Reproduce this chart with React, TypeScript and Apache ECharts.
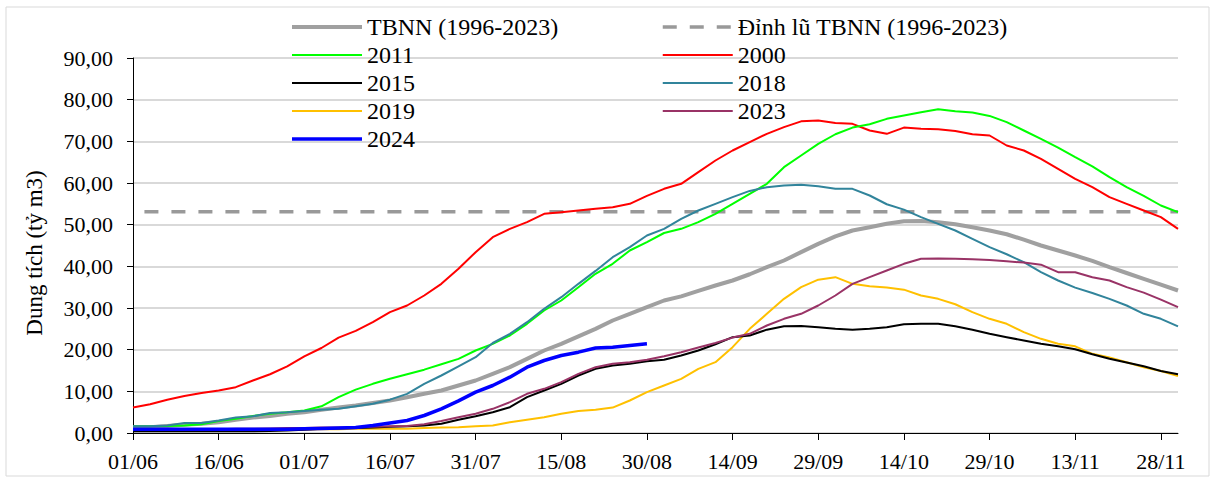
import React, { useEffect, useRef } from "react";
import * as echarts from "echarts";

// Daily categories 01/06 .. 01/12
const categories: string[] = [];
for (let i = 0; i <= 183; i++) {
  const d = new Date(Date.UTC(2024, 5, 1 + i));
  const dd = String(d.getUTCDate()).padStart(2, "0");
  const mm = String(d.getUTCMonth() + 1).padStart(2, "0");
  categories.push(`${dd}/${mm}`);
}

// Values read every 3 days starting at 01/06
const STEP = 3;

const tbnn = [1.4, 1.4, 1.7, 2.0, 2.2, 2.6, 3.2, 3.7, 4.1, 4.6, 5.0, 5.6, 6.1, 6.6, 7.2, 7.8, 8.6, 9.4, 10.2, 11.4, 12.6, 14.2, 15.8, 17.8, 19.8, 21.4, 23.2, 25.0, 27.0, 28.6, 30.2, 31.8, 32.8, 34.1, 35.4, 36.6, 38.1, 39.8, 41.4, 43.4, 45.4, 47.2, 48.6, 49.4, 50.2, 50.8, 50.9, 50.6, 50.1, 49.4, 48.6, 47.7, 46.4, 45.0, 43.8, 42.6, 41.3, 39.8, 38.4, 37.0, 35.6, 34.2];

const y2000 = [6.1, 6.9, 8.0, 8.9, 9.6, 10.2, 11.0, 12.6, 14.1, 16.0, 18.4, 20.4, 22.9, 24.5, 26.6, 29.0, 30.6, 33.0, 35.8, 39.4, 43.4, 47.0, 49.0, 50.6, 52.6, 53.0, 53.4, 53.8, 54.2, 55.0, 56.9, 58.6, 59.8, 62.6, 65.4, 67.8, 69.8, 71.8, 73.4, 74.8, 75.0, 74.4, 74.2, 72.6, 71.8, 73.3, 73.0, 72.9, 72.5, 71.7, 71.4, 69.0, 67.8, 65.8, 63.4, 61.0, 59.0, 56.6, 55.0, 53.4, 51.8, 49.0];

const y2011 = [1.6, 1.6, 1.7, 1.8, 2.1, 2.9, 3.4, 4.1, 4.6, 5.0, 5.4, 6.4, 8.6, 10.4, 11.8, 13.0, 14.1, 15.2, 16.5, 17.8, 19.8, 21.4, 23.4, 26.2, 29.4, 31.8, 35.0, 38.2, 40.6, 43.8, 45.8, 48.0, 49.0, 50.6, 52.6, 55.0, 57.4, 59.8, 63.8, 66.6, 69.4, 71.7, 73.3, 74.1, 75.4, 76.2, 77.0, 77.7, 77.2, 76.9, 76.1, 74.6, 72.6, 70.6, 68.5, 66.2, 64.0, 61.4, 59.0, 56.9, 54.6, 53.0];

const y2015 = [0.4, 0.4, 0.4, 0.4, 0.4, 0.4, 0.4, 0.4, 0.5, 0.6, 0.8, 1.0, 1.1, 1.2, 1.3, 1.5, 1.6, 1.8, 2.2, 3.2, 4.0, 5.0, 6.2, 8.6, 10.2, 11.8, 13.8, 15.4, 16.2, 16.6, 17.2, 17.6, 18.6, 19.8, 21.3, 23.0, 23.4, 24.8, 25.6, 25.7, 25.4, 25.0, 24.8, 25.0, 25.4, 26.1, 26.2, 26.2, 25.6, 24.8, 23.8, 23.0, 22.2, 21.4, 20.8, 20.1, 18.9, 17.8, 16.9, 16.0, 14.9, 14.1];

const y2018 = [1.6, 1.6, 1.8, 2.4, 2.4, 3.0, 3.7, 4.0, 4.8, 5.0, 5.3, 5.6, 5.8, 6.4, 7.0, 8.0, 9.4, 11.8, 13.8, 16.0, 18.2, 21.6, 23.8, 26.6, 29.8, 32.6, 35.8, 38.9, 42.2, 44.6, 47.4, 49.0, 51.4, 53.4, 55.0, 56.6, 58.1, 59.0, 59.4, 59.6, 59.2, 58.6, 58.6, 57.0, 54.9, 53.6, 51.8, 50.2, 48.6, 46.6, 44.6, 42.9, 41.0, 38.6, 36.6, 34.9, 33.6, 32.2, 30.6, 28.6, 27.4, 25.6];

const y2019 = [0.5, 0.5, 0.5, 0.5, 0.6, 0.6, 0.6, 0.7, 0.7, 0.8, 0.8, 0.9, 0.9, 1.0, 1.0, 1.0, 1.0, 1.2, 1.3, 1.4, 1.6, 1.8, 2.6, 3.2, 3.8, 4.6, 5.3, 5.6, 6.1, 7.8, 9.8, 11.4, 13.0, 15.4, 17.0, 20.6, 25.0, 28.6, 32.2, 35.0, 36.8, 37.4, 35.8, 35.2, 34.9, 34.4, 33.0, 32.2, 30.9, 29.0, 27.4, 26.2, 24.2, 22.6, 21.4, 20.8, 19.0, 18.1, 17.0, 15.8, 14.9, 13.7];

const y2023 = [0.9, 0.9, 0.9, 0.9, 0.9, 0.9, 1.0, 1.0, 1.1, 1.2, 1.2, 1.3, 1.3, 1.4, 1.5, 1.6, 1.7, 2.1, 2.9, 3.8, 4.6, 5.8, 7.4, 9.4, 10.6, 12.2, 14.2, 15.8, 16.6, 17.0, 17.6, 18.4, 19.4, 20.5, 21.6, 22.9, 23.8, 25.8, 27.4, 28.6, 30.6, 33.0, 35.8, 37.4, 39.0, 40.6, 41.8, 41.9, 41.8, 41.7, 41.5, 41.2, 40.9, 40.4, 38.6, 38.6, 37.4, 36.6, 35.0, 33.7, 32.0, 30.2];

const y2024 = [0.9, 0.9, 0.9, 0.9, 0.9, 0.9, 0.9, 0.9, 0.9, 0.9, 1.0, 1.1, 1.2, 1.3, 1.8, 2.4, 3.0, 4.2, 5.8, 7.7, 9.8, 11.4, 13.4, 15.8, 17.4, 18.6, 19.4, 20.4, 20.6, 21.0, 21.4];

// Flood peak average (constant line) from 03/06 to 01/12
const floodPeak = 53.1;
const floodPeakDates = ["03/06", "01/12"];

const SERIF = "Liberation Serif, Times New Roman, serif";

const pairs = (vals: number[]) => vals.map((v, i) => [categories[i * STEP], v]);

const line = (name: string, vals: number[], color: string, width: number, z = 2) => ({
  name,
  type: "line",
  data: pairs(vals),
  symbol: "none",
  showSymbol: false,
  lineStyle: { color, width },
  itemStyle: { color },
  z,
});

export default function App() {
  const ref = useRef<HTMLDivElement>(null);
  useEffect(() => {
    if (!ref.current) return;
    const chart = echarts.init(ref.current, undefined, { renderer: "svg" });
    const legendText = { fontFamily: SERIF, fontSize: 24, lineHeight: 22, color: "#000" };
    const legendBase = {
      orient: "vertical",
      top: 15,
      padding: 0,
      itemWidth: 70,
      itemHeight: 22,
      itemGap: 4,
      itemStyle: { opacity: 0 },
      lineStyle: { width: "inherit" },
      textStyle: legendText,
    };
    chart.setOption({
      animation: false,
      backgroundColor: "#fff",
      grid: { left: 133, right: 36, top: 58, bottom: 47, containLabel: false },
      graphic: [
        {
          type: "rect",
          shape: { x: 6, y: 7, width: 1203, height: 469 },
          style: { fill: "none", stroke: "#d9d9d9", lineWidth: 1 },
          silent: true,
          z: -10,
        },
        {
          type: "text",
          x: 34,
          y: 253,
          rotation: Math.PI / 2,
          style: {
            text: "Dung tích (tỷ m3)",
            font: `23px ${SERIF}`,
            fill: "#000",
            textAlign: "center",
            textVerticalAlign: "middle",
          },
        },
      ],
      legend: [
        {
          ...legendBase,
          left: 290,
          data: ["TBNN (1996-2023)", "2011", "2015", "2019", "2024"],
        },
        {
          ...legendBase,
          left: 661,
          data: ["Đỉnh lũ TBNN (1996-2023)", "2000", "2018", "2023"],
        },
      ],
      xAxis: {
        type: "category",
        data: categories,
        boundaryGap: false,
        axisLine: { lineStyle: { color: "#000", width: 1 } },
        axisTick: { interval: 14, length: 7, lineStyle: { color: "#000" } },
        axisLabel: { interval: 14, margin: 17, fontFamily: SERIF, fontSize: 22, color: "#000" },
        splitLine: { show: false },
      },
      yAxis: {
        type: "value",
        min: 0,
        max: 90,
        interval: 10,
        axisLine: { show: true, lineStyle: { color: "#000", width: 1 } },
        axisTick: { show: true, length: 6, lineStyle: { color: "#000" } },
        axisLabel: {
          margin: 20,
          fontFamily: SERIF,
          fontSize: 22,
          color: "#000",
          formatter: (v: number) => v.toFixed(2).replace(".", ","),
        },
        splitLine: { lineStyle: { color: "#d9d9d9", width: 2 } },
      },
      series: [
        {
          name: "Đỉnh lũ TBNN (1996-2023)",
          type: "line",
          data: floodPeakDates.map((d) => [d, floodPeak]),
          symbol: "none",
          lineStyle: { color: "#999999", width: 3.5, type: [14, 13] },
          itemStyle: { color: "#999999" },
          z: 1,
        },
        line("TBNN (1996-2023)", tbnn, "#a0a0a0", 4, 2),
        line("2000", y2000, "#ff0000", 2),
        line("2011", y2011, "#00ff00", 2),
        line("2018", y2018, "#31849b", 2),
        line("2019", y2019, "#ffc000", 2),
        line("2015", y2015, "#000000", 2),
        line("2023", y2023, "#993366", 2),
        line("2024", y2024, "#0000ff", 3.5, 3),
      ],
    });
    return () => chart.dispose();
  }, []);
  return (
    <div
      ref={ref}
      style={{ position: "absolute", left: 0, top: 0, width: 1214, height: 480 }}
    />
  );
}
